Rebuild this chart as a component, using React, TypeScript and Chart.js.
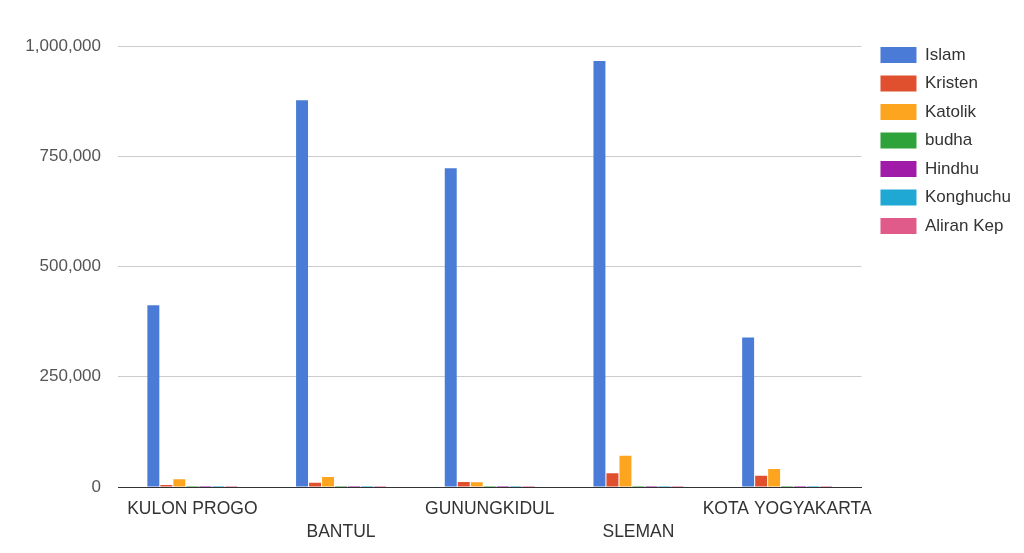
import React, { useEffect, useRef } from "react";
import { Chart, registerables } from "chart.js";

Chart.register(...registerables);

const categories = ["KULON PROGO", "BANTUL", "GUNUNGKIDUL", "SLEMAN", "KOTA YOGYAKARTA"];
const seriesNames = ["Islam", "Kristen", "Katolik", "budha", "Hindhu", "Konghuchu", "Aliran Kep"];
const islam = [412000, 877000, 723000, 966000, 339000];
const kristen = [4500, 9800, 11300, 31000, 25600];
const katolik = [17400, 22700, 11000, 71000, 40800];
const budha = [60, 120, 40, 150, 180];
const hindhu = [40, 150, 60, 120, 90];
const konghuchu = [10, 20, 10, 40, 80];
const aliranKep = [20, 40, 60, 20, 20];
const seriesColors = ["#4a7bd6", "#e0502e", "#fda51f", "#2ea33a", "#a01ca8", "#1fa8d4", "#e05a8a"];
const yTicks = [0, 250000, 500000, 750000, 1000000];

const FONT = "'Liberation Sans', Arial, sans-serif";

export default function App() {
  const ref = useRef<HTMLCanvasElement | null>(null);
  useEffect(() => {
    document.body.style.margin = "0";
    const values = [islam, kristen, katolik, budha, hindhu, konghuchu, aliranKep];
    const chart = new Chart(ref.current as HTMLCanvasElement, {
      type: "bar",
      data: {
        labels: categories.map((c, i) => (i % 2 === 1 ? ["", c] : c)),
        datasets: seriesNames.map((n, i) => ({
          label: n,
          data: values[i],
          backgroundColor: seriesColors[i],
          borderWidth: 0,
          barPercentage: 0.92,
          categoryPercentage: 0.612,
        })),
      },
      options: {
        responsive: false,
        animation: false,
        layout: { padding: { top: 0, right: 3 } },
        plugins: {
          tooltip: { enabled: false },
          title: {
            display: true,
            text: " ",
            font: { size: 10, lineHeight: 1.2 },
            padding: { top: 0, bottom: 34 },
          },
          legend: {
            position: "right",
            align: "start",
            title: {
              display: true,
              text: " ",
              font: { size: 10, lineHeight: 1.2 },
              padding: { top: 0, bottom: 23 },
            },
            labels: {
              boxWidth: 36,
              boxHeight: 16,
              padding: 11.5,
              color: "#333",
              font: { family: FONT, size: 17 },
            },
          },
        },
        scales: {
          x: {
            grid: { display: false, drawTicks: false },
            border: { color: "#333", width: 1 },
            ticks: {
              color: "#333",
              maxRotation: 0,
              autoSkip: false,
              padding: 11,
              font: { family: FONT, size: 17.5, lineHeight: 1.3 },
            },
            afterFit: (s: any) => {
              s.height = 66;
            },
          },
          y: {
            min: 0,
            max: 1000000,
            afterBuildTicks: (s: any) => {
              s.ticks = yTicks.map((v) => ({ value: v }));
            },
            grid: { color: "#cccccc", drawTicks: false },
            border: { display: false },
            ticks: {
              color: "#555",
              padding: 17,
              font: { family: FONT, size: 17 },
              callback: (v: any) => Number(v).toLocaleString("en-US"),
            },
            afterFit: (s: any) => {
              s.width = 118;
            },
          },
          gap: {
            type: "linear",
            position: "right",
            display: true,
            grid: { display: false, drawTicks: false },
            border: { display: false },
            ticks: { display: false },
            afterFit: (s: any) => {
              s.width = 7.5;
            },
          },
        },
      },
    });
    return () => chart.destroy();
  }, []);
  return (
    <div style={{ position: "absolute", left: 0, top: 0, width: 1024, height: 553, background: "#fff" }}>
      <canvas ref={ref} width={1024} height={553} />
    </div>
  );
}
